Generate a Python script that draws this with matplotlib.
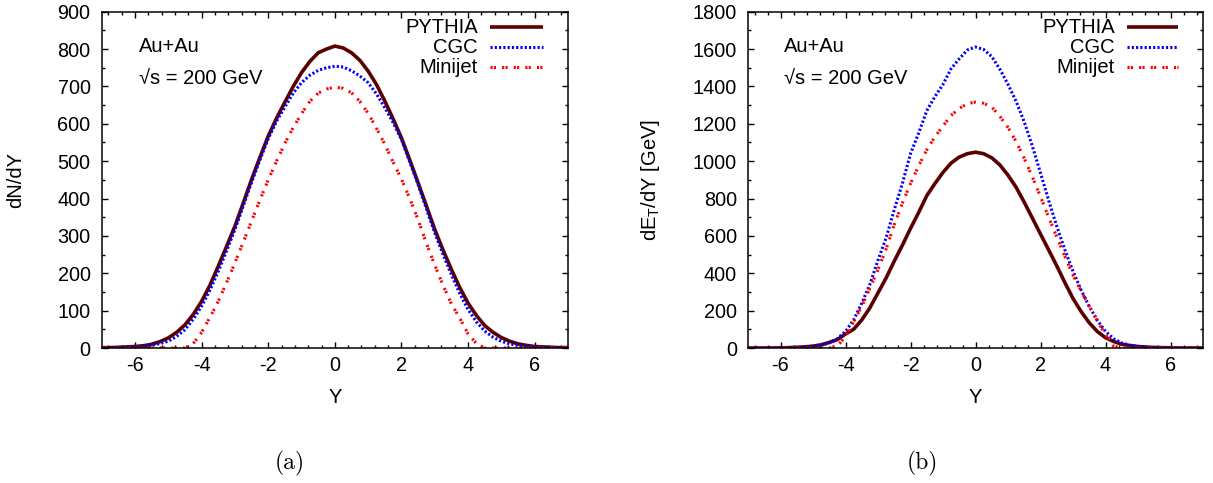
import numpy as np
import matplotlib
matplotlib.use("Agg")
import matplotlib.pyplot as plt
from matplotlib.ticker import MultipleLocator

plt.rcParams['font.family'] = ['Liberation Sans', 'DejaVu Sans']
plt.rcParams['mathtext.fontset'] = 'custom'
plt.rcParams['mathtext.rm'] = 'Liberation Sans'
plt.rcParams['mathtext.it'] = 'Liberation Sans:italic'
plt.rcParams['axes.unicode_minus'] = False

# rapidity grid (step 0.25 from -7 to 7)
rapidity = np.linspace(-7, 7, 57)

# panel (a): dN/dY
pythia_n = [1, 1, 2, 3, 4, 6, 10, 17, 27, 42, 62, 90, 125, 168, 219, 272, 326,
            388, 451, 510, 567, 615, 658, 700, 737, 767, 790, 800, 808,
            803, 790, 770, 741, 705, 661, 613, 562, 503, 442, 380, 317, 262,
            210, 162, 120, 87, 60, 42, 28, 18, 11, 7, 4, 3, 2, 1, 1]
cgc_n = [0, 0, 1, 1, 2, 4, 7, 12, 18, 31, 49, 77, 112, 155, 205, 260, 317,
         380, 443, 503, 560, 607, 645, 682, 710, 730, 743, 750, 754,
         752, 742, 728, 710, 680, 643, 603, 558, 498, 437, 372, 308, 250,
         196, 146, 103, 70, 45, 29, 18, 11, 7, 4, 2, 1, 1, 0, 0]
minijet_n = [0, 0, 0, 0, 0, 0, 0, 0, 0, 0, 0, 12, 42, 82, 125, 175, 228,
             283, 340, 396, 450, 500, 548, 590, 627, 660, 682, 693, 698,
             695, 683, 660, 628, 588, 545, 497, 452, 400, 343, 280, 222, 167,
             118, 80, 38, 12, 0, 0, 0, 0, 0, 0, 0, 0, 0, 0, 0]

# panel (b): dE_T/dY [GeV]
pythia_e = [0, 0, 0, 0, 1, 2, 4, 6, 10, 17, 30, 45, 75, 100, 150, 215, 295,
            375, 465, 550, 640, 725, 815, 880, 940, 990, 1022, 1040, 1048,
            1040, 1018, 980, 925, 860, 780, 695, 610, 525, 440, 350, 265, 195,
            135, 88, 55, 35, 20, 13, 8, 5, 3, 2, 1, 0, 0, 0, 0]
cgc_e = [0, 0, 0, 0, 1, 1, 2, 4, 8, 15, 27, 50, 89, 150, 240, 340, 470,
         590, 740, 880, 1040, 1150, 1270, 1345, 1411, 1495, 1548, 1595, 1611,
         1598, 1560, 1492, 1411, 1320, 1210, 1080, 937, 790, 652, 525, 411, 310,
         223, 148, 89, 50, 27, 15, 8, 4, 2, 1, 1, 0, 0, 0, 0]
minijet_e = [0, 0, 0, 0, 0, 0, 0, 0, 0, 0, 0, 10, 62, 140, 223, 320, 420,
             530, 660, 775, 880, 975, 1060, 1130, 1188, 1245, 1282, 1308, 1316,
             1310, 1290, 1240, 1180, 1105, 1015, 915, 810, 700, 595, 490, 390, 305,
             223, 145, 71, 10, 0, 0, 0, 0, 0, 0, 0, 0, 0, 0, 0]

labels = ["PYTHIA", "CGC", "Minijet"]
colors = ["#5a0000", "#0000ff", "#ff0000"]
widths = [2.6, 2.2, 2.2]
styles = ["-", (0, (0.7, 0.7)), (0, (0.7, 0.4, 0.7, 2.0))]

FS = 14.5

fig = plt.figure(figsize=(12.13, 4.83), dpi=100)
ax1 = fig.add_axes([101.7 / 1213, 1 - 348 / 483, 466.3 / 1213, 336.3 / 483])
ax2 = fig.add_axes([748 / 1213, 1 - 348 / 483, 455 / 1213, 336.3 / 483])

panels = [
    (ax1, [pythia_n, cgc_n, minijet_n], 900, 100, 50, "dN/dY", -0.165),
    (ax2, [pythia_e, cgc_e, minijet_e], 1800, 200, 100,
     r"dE$_\mathrm{T}$/dY [GeV]", -0.19),
]

for ax, series, ymax, ymaj, ymin_, ylab, ylx in panels:
    for vals, lab, c, lw, ls in zip(series, labels, colors, widths, styles):
        ax.plot(rapidity, vals, color=c, lw=lw, linestyle=ls,
                dash_capstyle='butt', solid_capstyle='butt', label=lab)
    ax.set_xlim(-7, 7)
    ax.set_ylim(0, ymax)
    ax.xaxis.set_major_locator(MultipleLocator(2))
    ax.xaxis.set_minor_locator(MultipleLocator(0.4))
    ax.yaxis.set_major_locator(MultipleLocator(ymaj))
    ax.yaxis.set_minor_locator(MultipleLocator(ymin_))
    ax.tick_params(which='both', direction='in', top=True, right=True,
                   labelsize=14.3, width=1.0)
    ax.tick_params(which='major', length=4.5)
    ax.tick_params(which='minor', length=2.4)
    ax.tick_params(axis='x', pad=6)
    ax.tick_params(axis='y', pad=8)
    for sp in ax.spines.values():
        sp.set_linewidth(1.1)
    ax.set_xlabel("Y", fontsize=FS)
    ax.xaxis.set_label_coords(0.5, -0.12)
    ax.set_ylabel(ylab, fontsize=FS)
    ax.yaxis.set_label_coords(ylx, 0.5)

    ax.text(0.08, 0.898, "Au+Au", transform=ax.transAxes, fontsize=FS,
            ha='left', va='center')
    ax.text(0.08, 0.80, "\u221as = 200 GeV", transform=ax.transAxes,
            fontsize=FS, ha='left', va='center')

    # key
    for i, (lab, c, lw, ls) in enumerate(zip(labels, colors, widths, styles)):
        yk = 0.9545 - i * 0.0595
        ax.text(0.806, yk, lab, transform=ax.transAxes, fontsize=FS,
                ha='right', va='center')
        ax.plot([0.833, 0.946], [yk, yk], transform=ax.transAxes, color=c,
                lw=lw, linestyle=ls, dash_capstyle='butt',
                solid_capstyle='butt')

fig.text(290 / 1213, 1 - 463 / 483, "(a)", family='cmr10', fontsize=17,
         ha='center', va='center')
fig.text(922 / 1213, 1 - 463 / 483, "(b)", family='cmr10', fontsize=17,
         ha='center', va='center')

fig.savefig("out.png", dpi=100, facecolor='white')
